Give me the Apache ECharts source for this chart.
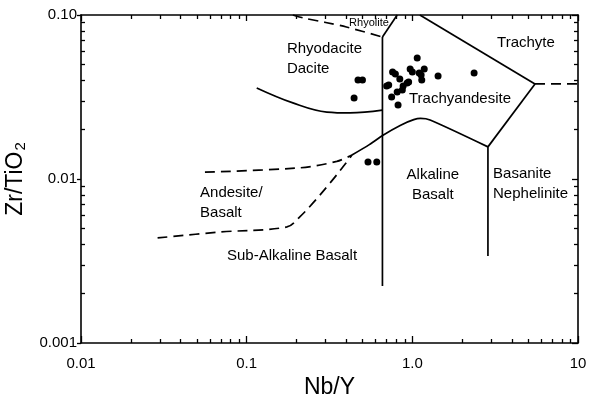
<!DOCTYPE html>
<html>
<head>
<meta charset="utf-8">
<script src="https://cdn.jsdelivr.net/npm/echarts@6/dist/echarts.min.js"></script>
<style>
  html, body { margin: 0; padding: 0; background: #fff; }
  #chart { width: 590px; height: 396px; }
</style>
</head>
<body>
<div id="chart"></div>
<script>
// Tick labels and their values on the two log axes
const xTickValues = [0.01, 0.1, 1, 10];
const xTickLabels = ['0.01', '0.1', '1.0', '10'];
const yTickValues = [0.001, 0.01, 0.1];
const yTickLabels = ['0.001', '0.01', '0.10'];

// Sample analyses: Nb/Y against Zr/TiO2
const nbY =    [0.47, 0.50, 0.445, 0.54, 0.61, 0.70, 0.72, 0.75, 0.76, 0.79, 0.81, 0.82, 0.84, 0.87, 0.88, 0.93, 0.95, 0.97, 1.00, 1.07, 1.10, 1.13, 1.14, 1.18, 1.43, 2.36];
const zrTiO2 = [0.0402, 0.0402, 0.0312, 0.0127, 0.0127, 0.0369, 0.0374, 0.0316, 0.0449, 0.0437, 0.0339, 0.0283, 0.0407, 0.0349, 0.0369, 0.0385, 0.0390, 0.0469, 0.0449, 0.0547, 0.0443, 0.0431, 0.0402, 0.0469, 0.0425, 0.0443];

// Field boundaries, as [Nb/Y, Zr/TiO2] vertices
const rhyoliteDashed      = [[0.19, 0.1], [0.22, 0.0959], [0.30, 0.090], [0.40, 0.0845], [0.66, 0.0734]];
const rhyoliteSolid       = [[0.66, 0.0734], [0.81, 0.1]];
const centralDivide       = [[0.66, 0.0734], [0.66, 0.00223]];
const trachyteUpper       = [[1.11, 0.1], [5.5, 0.038]];
const trachyteDashed      = [[5.5, 0.038], [10, 0.038]];
const trachyteLower       = [[5.5, 0.038], [2.86, 0.0157]];
const basaniteDivide      = [[2.86, 0.0157], [2.86, 0.00339]];
const alkalineArch        = [[0.432, 0.0140], [0.55, 0.0162], [0.665, 0.0185], [0.85, 0.0213], [1.02, 0.0230], [1.12, 0.0234], [1.28, 0.0229], [2.86, 0.0157]];
const rhyodaciteLower     = [[0.115, 0.0359], [0.19, 0.0291], [0.305, 0.0256], [0.42, 0.0253], [0.66, 0.0263]];
const andesiteUpper       = [[0.056, 0.0110], [0.21, 0.0117], [0.35, 0.0128], [0.432, 0.0140]];
const subAlkalineBoundary = [[0.029, 0.00437], [0.069, 0.00475], [0.175, 0.0051], [0.21, 0.0059], [0.25, 0.0071], [0.32, 0.0095], [0.39, 0.0122], [0.432, 0.0140]];

// Field names, anchored in data space
const regionLabels = [
  { text: 'Rhyolite', at: [0.5475, 0.0894], align: 'center', size: 11 },
  { text: 'Rhyodacite\nDacite', at: [0.175, 0.0543], align: 'left', size: 15 },
  { text: 'Trachyte', at: [4.85, 0.0675], align: 'center', size: 15 },
  { text: 'Trachyandesite', at: [1.94, 0.0307], align: 'center', size: 15 },
  { text: 'Alkaline\nBasalt', at: [1.33, 0.00926], align: 'center', size: 15 },
  { text: 'Basanite\nNephelinite', at: [3.07, 0.0093], align: 'left', size: 15 },
  { text: 'Andesite/\nBasalt', at: [0.0523, 0.00719], align: 'left', size: 15 },
  { text: 'Sub-Alkaline Basalt', at: [0.0761, 0.00339], align: 'left', size: 15 }
];

const FONT = '"Liberation Sans", Arial, Helvetica, sans-serif';
const INK = '#000';

// Intermediate log-axis ticks (2..9 in each decade)
function minorValues(lo, hi) {
  const out = [];
  for (let d = lo; d < hi * 0.999; d *= 10) {
    for (let k = 2; k <= 9; k++) out.push(+(d * k).toPrecision(6));
  }
  return out;
}
const xMinor = minorValues(0.01, 10);
const yMinor = minorValues(0.001, 0.1);

function logAxis(o) {
  return Object.assign({
    type: 'log',
    logBase: 10,
    axisLine: { show: false },
    splitLine: { show: false },
    minorTick: { show: false },
    axisTick: { show: false },
    axisLabel: { show: false },
    axisPointer: { show: false },
    silent: true
  }, o);
}

const xBase = { min: 0.01, max: 10 };
const yBase = { min: 0.001, max: 0.1 };

const xAxes = [
  logAxis(Object.assign({}, xBase, {
    position: 'bottom',
    axisLine: { show: true, onZero: false, lineStyle: { color: INK, width: 1.6 } },
    axisTick: { show: true, inside: true, length: 7, customValues: xTickValues, lineStyle: { color: INK, width: 1.3 } },
    axisLabel: {
      show: true, customValues: xTickValues, margin: 13,
      color: INK, fontFamily: FONT, fontSize: 15,
      formatter: v => xTickLabels[xTickValues.findIndex(t => Math.abs(t - v) < t * 1e-6)]
    },
    name: 'Nb/Y', nameLocation: 'middle', nameGap: 31,
    nameTextStyle: { color: INK, fontFamily: FONT, fontSize: 23 }
  })),
  logAxis(Object.assign({}, xBase, {
    position: 'bottom',
    axisTick: { show: true, inside: true, length: 4, customValues: xMinor, lineStyle: { color: INK, width: 1.3 } }
  })),
  logAxis(Object.assign({}, xBase, {
    position: 'top',
    axisLine: { show: true, onZero: false, lineStyle: { color: INK, width: 1.6 } },
    axisTick: { show: true, inside: true, length: 6, customValues: xTickValues, lineStyle: { color: INK, width: 1.3 } }
  })),
  logAxis(Object.assign({}, xBase, {
    position: 'top',
    axisTick: { show: true, inside: true, length: 4, customValues: xMinor, lineStyle: { color: INK, width: 1.3 } }
  }))
];

const yAxes = [
  logAxis(Object.assign({}, yBase, {
    position: 'left',
    axisLine: { show: true, onZero: false, lineStyle: { color: INK, width: 1.6 } },
    axisTick: { show: true, inside: false, length: 4, customValues: yTickValues, lineStyle: { color: INK, width: 1.3 } },
    axisLabel: {
      show: true, customValues: yTickValues, margin: 4,
      color: INK, fontFamily: FONT, fontSize: 15,
      formatter: v => yTickLabels[yTickValues.findIndex(t => Math.abs(t - v) < t * 1e-6)]
    },
    name: 'Zr/TiO{sub|2}', nameLocation: 'middle', nameGap: 46, nameRotate: 90,
    nameTextStyle: {
      color: INK, fontFamily: FONT, fontSize: 23,
      rich: { sub: { fontSize: 15, fontFamily: FONT, color: INK, padding: [10, 0, 0, 1] } }
    }
  })),
  logAxis(Object.assign({}, yBase, {
    position: 'left',
    axisTick: { show: true, inside: true, length: 4, customValues: yMinor, lineStyle: { color: INK, width: 1.3 } }
  })),
  logAxis(Object.assign({}, yBase, {
    position: 'right',
    axisLine: { show: true, onZero: false, lineStyle: { color: INK, width: 1.6 } },
    axisTick: { show: true, inside: true, length: 6, customValues: yTickValues, lineStyle: { color: INK, width: 1.3 } }
  })),
  logAxis(Object.assign({}, yBase, {
    position: 'right',
    axisTick: { show: true, inside: true, length: 4, customValues: yMinor, lineStyle: { color: INK, width: 1.3 } }
  }))
];

function boundary(data, dashed, smooth) {
  return {
    type: 'line',
    data: data,
    xAxisIndex: 0, yAxisIndex: 0,
    showSymbol: false, symbol: 'none',
    smooth: smooth || false,
    silent: true,
    clip: true,
    lineStyle: { color: INK, width: 1.7, type: dashed ? [10, 6] : 'solid', cap: 'butt' },
    z: 2
  };
}

const series = [
  boundary(rhyoliteDashed, true, 0.3),
  boundary(rhyoliteSolid, false),
  boundary(centralDivide, false),
  boundary(trachyteUpper, false),
  boundary(trachyteDashed, true),
  boundary(trachyteLower, false),
  boundary(basaniteDivide, false),
  boundary(alkalineArch, false, 0.25),
  boundary(rhyodaciteLower, false, 0.4),
  boundary(andesiteUpper, true, 0.3),
  boundary(subAlkalineBoundary, true, 0.35),
  {
    type: 'scatter',
    name: 'samples',
    xAxisIndex: 0, yAxisIndex: 0,
    data: nbY.map((x, i) => [x, zrTiO2[i]]),
    symbol: 'circle',
    symbolSize: 7,
    itemStyle: { color: INK, opacity: 1 },
    silent: true,
    z: 4
  },
  {
    type: 'scatter',
    name: 'fields',
    xAxisIndex: 0, yAxisIndex: 0,
    symbolSize: 0,
    silent: true,
    itemStyle: { color: 'rgba(0,0,0,0)' },
    z: 5,
    data: regionLabels.map(l => ({
      value: l.at,
      label: {
        show: true,
        formatter: l.text,
        position: l.align === 'left' ? 'right' : 'inside',
        distance: 0,
        align: l.align,
        verticalAlign: 'middle',
        color: INK,
        opacity: 1,
        textBorderWidth: 0,
        fontFamily: FONT,
        fontSize: l.size,
        lineHeight: l.size === 15 ? 20 : 12
      }
    }))
  }
];

const chart = echarts.init(document.getElementById('chart'), null, { renderer: 'canvas' });
chart.setOption({
  animation: false,
  backgroundColor: '#fff',
  grid: { left: 81, right: 12, top: 15, bottom: 53, containLabel: false, outerBoundsMode: 'none' },
  xAxis: xAxes,
  yAxis: yAxes,
  series: series
});
</script>
</body>
</html>
